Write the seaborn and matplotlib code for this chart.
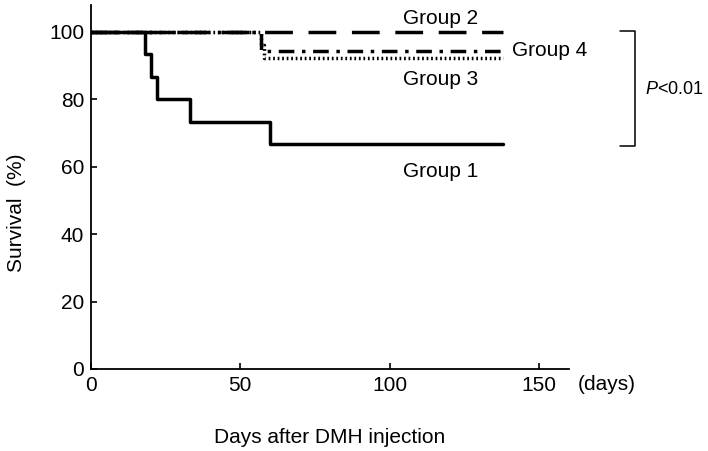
import pandas as pd
import numpy as np
import matplotlib.pyplot as plt
import seaborn as sns

sns.set_style("ticks")
plt.rcParams["font.family"] = ["Liberation Sans", "DejaVu Sans"]
plt.rcParams["mathtext.fontset"] = "custom"
plt.rcParams["mathtext.it"] = "Liberation Sans:italic"
plt.rcParams["mathtext.rm"] = "Liberation Sans"
for key in ["text.color", "axes.labelcolor", "xtick.color", "ytick.color"]:
    plt.rcParams[key] = "black"

# Kaplan-Meier step points (days, survival %)
group1_days = [0, 18, 20, 22, 33, 60, 138]
group1_surv = [100, 93.3, 86.7, 80.0, 73.3, 66.7, 66.7]
group2_days = [0, 138]
group2_surv = [100, 100]
group3_days = [0, 57, 58, 138]
group3_surv = [100, 96.0, 92.3, 92.3]
group4_days = [0, 57, 138]
group4_surv = [100, 94.4, 94.4]

groups = ["Group 1", "Group 2", "Group 3", "Group 4"]
x_ticks = [0, 50, 100, 150]
y_ticks = [0, 20, 40, 60, 80, 100]

df = pd.concat(
    [
        pd.DataFrame({"days": d, "survival": s, "group": g})
        for g, d, s in zip(
            groups,
            [group1_days, group2_days, group3_days, group4_days],
            [group1_surv, group2_surv, group3_surv, group4_surv],
        )
    ],
    ignore_index=True,
)

# %%
fig = plt.figure(figsize=(7.08, 4.51), dpi=100)
ax = fig.add_axes([0.1285, 0.182, 0.675, 0.807])

sns.lineplot(
    data=df,
    x="days",
    y="survival",
    hue="group",
    style="group",
    hue_order=groups,
    style_order=groups,
    palette=["black"] * 4,
    dashes={
        "Group 1": "",
        "Group 2": (8, 4.5),
        "Group 3": (0.5, 0.8),
        "Group 4": (4.5, 2.2, 1, 2.2),
    },
    estimator=None,
    sort=False,
    drawstyle="steps-post",
    linewidth=2.5,
    legend=False,
    ax=ax,
)

ax.set_xlim(0, 160)
ax.set_ylim(0, 108)
ax.set_xticks(x_ticks)
ax.set_yticks(y_ticks)
ax.tick_params(direction="in", length=4, width=1.2, labelsize=15, pad=5)
for side in ["top", "right"]:
    ax.spines[side].set_visible(False)
for side in ["left", "bottom"]:
    ax.spines[side].set_linewidth(1.3)
    ax.spines[side].set_color("black")

ax.set_xlabel("Days after DMH injection", fontsize=15, labelpad=24)
ax.set_ylabel("Survival  (%)", fontsize=15)
ax.yaxis.set_label_coords(-0.137, 0.43)
ax.text(163, -4.5, "(days)", fontsize=15, va="center", ha="left", clip_on=False)

# group labels
ax.text(117, 104, "Group 2", fontsize=15, ha="center", va="center")
ax.text(141, 94.5, "Group 4", fontsize=15, ha="left", va="center")
ax.text(117, 86, "Group 3", fontsize=15, ha="center", va="center")
ax.text(117, 58.5, "Group 1", fontsize=15, ha="center", va="center")

# significance bracket
ax.plot([177, 182, 182, 177], [100.3, 100.3, 66, 66], color="black", lw=1.1, clip_on=False)
ax.text(185.5, 83, r"$P$<0.01", fontsize=13, ha="left", va="center", clip_on=False)

fig.savefig("out.png", dpi=100)
